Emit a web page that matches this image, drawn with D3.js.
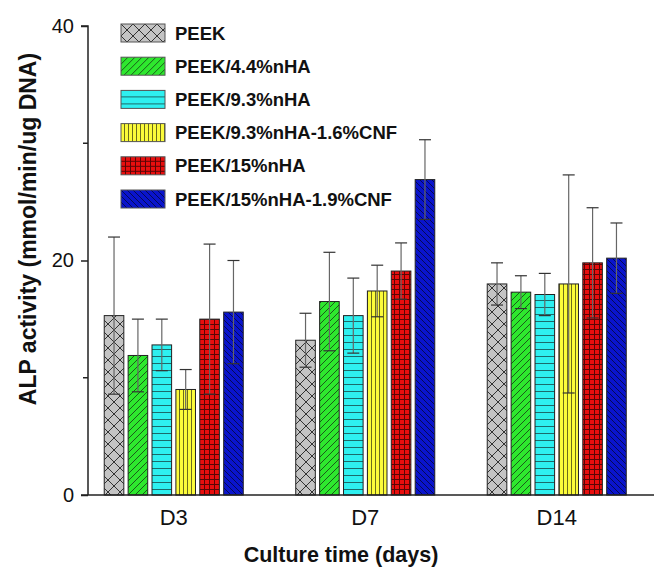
<!DOCTYPE html>
<html>
<head>
<meta charset="utf-8">
<script src="https://cdn.jsdelivr.net/npm/d3@7/dist/d3.min.js"></script>
<style>
  body { margin: 0; background: #fff; }
  svg { display: block; font-family: Arial, "Liberation Sans", sans-serif; }
</style>
</head>
<body>
<svg id="chart" width="654" height="572"></svg>
<script>
var days = ["D3", "D7", "D14"];
var groups = ["PEEK", "PEEK/4.4%nHA", "PEEK/9.3%nHA", "PEEK/9.3%nHA-1.6%CNF", "PEEK/15%nHA", "PEEK/15%nHA-1.9%CNF"];
var means = [
	[15.3, 11.9, 12.8, 9.0, 15.0, 15.6],
	[13.2, 16.5, 15.3, 17.4, 19.1, 26.9],
	[18.0, 17.3, 17.1, 18.0, 19.8, 20.2]
];
var errors = [
	[6.7, 3.1, 2.2, 1.7, 6.4, 4.4],
	[2.3, 4.2, 3.2, 2.2, 2.4, 3.4],
	[1.8, 1.4, 1.8, 9.3, 4.7, 3.0]
];
var yTicks = [0, 20, 40];
var yMinor = [10, 30];

var svg = d3.select("#chart"),
	x0 = 88, yBase = 495, yTop = 26;

var y = d3.scaleLinear().domain([0, 40]).range([yBase, yTop]);
var xDay = d3.scaleBand().domain(days).range([78, 652.5]).paddingInner(0.274).paddingOuter(0.137);
var xGrp = d3.scaleBand().domain(groups).range([0, xDay.bandwidth()]).paddingInner(0.18).paddingOuter(0);

// fill patterns
var defs = svg.append("defs");
function pattern(id, w, h, bg, draw) {
	var p = defs.append("pattern").attr("id", id).attr("patternUnits", "userSpaceOnUse")
		.attr("width", w).attr("height", h);
	p.append("rect").attr("width", w).attr("height", h).attr("fill", bg);
	draw(p);
}
pattern("p0", 12, 12, "#c4c4c4", function (p) {
	p.append("path").attr("d", "M0,0L12,12M12,0L0,12").attr("stroke", "#333").attr("stroke-width", 1);
});
pattern("p1", 7, 7, "#2ee82e", function (p) {
	p.append("path").attr("d", "M-1,8L8,-1M-1,1L1,-1M6,8L8,6").attr("stroke", "#1a5a1a").attr("stroke-width", 1);
});
pattern("p2", 7, 7, "#2ef0f0", function (p) {
	p.append("path").attr("d", "M0,6.5H7").attr("stroke", "#1b6b6b").attr("stroke-width", 1);
});
pattern("p3", 4, 4, "#fbfb3a", function (p) {
	p.append("path").attr("d", "M3.5,0V4").attr("stroke", "#6b6b1b").attr("stroke-width", 1);
});
pattern("p4", 5, 5, "#e80e0e", function (p) {
	p.append("path").attr("d", "M0,4.5H5M4.5,0V5").attr("stroke", "#5a0505").attr("stroke-width", 1);
});
pattern("p5", 6, 6, "#0a14cc", function (p) {
	p.append("path").attr("d", "M-1,-1L7,7M-1,5L1,7M5,-1L7,1").attr("stroke", "#050a55").attr("stroke-width", 1);
});

// bars
var data = [];
days.forEach(function (d, i) {
	groups.forEach(function (g, j) {
		data.push({ day: d, grp: g, idx: j, v: means[i][j], e: errors[i][j] });
	});
});

var bars = svg.append("g");
bars.selectAll("rect").data(data).enter().append("rect")
	.attr("x", function (d) { return xDay(d.day) + xGrp(d.grp); })
	.attr("y", function (d) { return y(d.v); })
	.attr("width", xGrp.bandwidth())
	.attr("height", function (d) { return y(0) - y(d.v); })
	.attr("fill", function (d) { return "url(#p" + d.idx + ")"; })
	.attr("stroke", "#222").attr("stroke-width", 1);

// error bars
var cx = function (d) { return xDay(d.day) + xGrp(d.grp) + xGrp.bandwidth() / 2; };
var eb = svg.append("g").attr("stroke", "#666").attr("stroke-width", 1.2);
eb.selectAll("line.v").data(data).enter().append("line")
	.attr("x1", cx).attr("x2", cx)
	.attr("y1", function (d) { return y(d.v + d.e); })
	.attr("y2", function (d) { return y(d.v - d.e); });
[1, -1].forEach(function (s) {
	eb.selectAll(null).data(data).enter().append("line")
		.attr("stroke", "#333")
		.attr("x1", function (d) { return cx(d) - 6; })
		.attr("x2", function (d) { return cx(d) + 6; })
		.attr("y1", function (d) { return y(d.v + s * d.e); })
		.attr("y2", function (d) { return y(d.v + s * d.e); });
});

// axes
var yAxis = d3.axisLeft(y).tickValues(yTicks).tickSize(7).tickPadding(7).tickFormat(d3.format("d"));
var gy = svg.append("g").attr("transform", "translate(" + x0 + ",0)").call(yAxis);
gy.select(".domain").attr("stroke", "#222").attr("stroke-width", 1.5).attr("d", "M-7," + yTop + "H0V" + yBase);
gy.selectAll(".tick line").attr("stroke", "#222").attr("stroke-width", 1.5);
gy.selectAll(".tick text").attr("font-size", 20).attr("font-family", "Arial, 'Liberation Sans', sans-serif").attr("fill", "#111");
gy.selectAll(".minor").data(yMinor).enter().append("line").attr("class", "minor")
	.attr("x1", -5).attr("x2", 0).attr("y1", y).attr("y2", y)
	.attr("stroke", "#222").attr("stroke-width", 1.5);

svg.append("line").attr("x1", x0 - 7).attr("x2", 654).attr("y1", yBase).attr("y2", yBase)
	.attr("stroke", "#222").attr("stroke-width", 1.5);

var xAxis = d3.axisBottom(xDay).tickSize(0).tickPadding(14);
var gx = svg.append("g").attr("transform", "translate(0," + yBase + ")").call(xAxis);
gx.select(".domain").remove();
gx.selectAll(".tick text").attr("font-size", 22).attr("font-family", "Arial, 'Liberation Sans', sans-serif").attr("fill", "#111");

svg.append("text").attr("x", 341).attr("y", 562).attr("text-anchor", "middle")
	.attr("font-size", 21.5).attr("font-weight", "bold").attr("fill", "#111")
	.text("Culture time (days)");
svg.append("text").attr("transform", "translate(36,229) rotate(-90)").attr("text-anchor", "middle")
	.attr("font-size", 23).attr("font-weight", "bold").attr("fill", "#111")
	.text("ALP activity (mmol/min/ug DNA)");

// legend
var leg = svg.append("g").attr("transform", "translate(121,24)");
var li = leg.selectAll("g").data(groups).enter().append("g")
	.attr("transform", function (d, i) { return "translate(0," + (i * 33.2) + ")"; });
li.append("rect").attr("width", 44).attr("height", 18)
	.attr("fill", function (d, i) { return "url(#p" + i + ")"; })
	.attr("stroke", "#555").attr("stroke-width", 1);
li.append("text").attr("x", 54).attr("y", 9).attr("dy", "0.36em")
	.attr("font-size", 18.5).attr("font-weight", "bold").attr("fill", "#111")
	.text(function (d) { return d; });
</script>
</body>
</html>
